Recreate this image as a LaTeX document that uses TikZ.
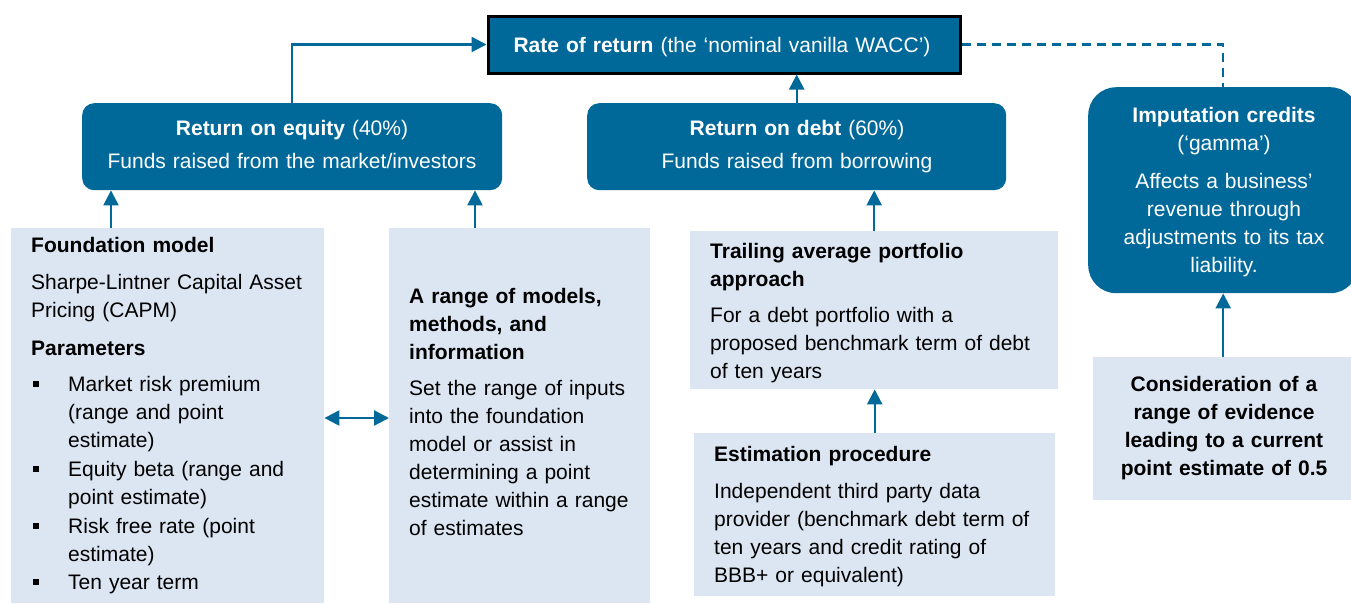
\documentclass[tikz,border=0pt]{standalone}
\usepackage{fontspec}
\setmainfont{Liberation Sans}
\usetikzlibrary{arrows.meta}
\definecolor{aerteal}{HTML}{00699A}
\definecolor{aerlight}{HTML}{DCE6F2}
\newcommand{\aerbul}{\makebox[37pt][l]{\hspace*{2pt}\rule[4pt]{6pt}{6pt}}}
\newcommand{\aerind}{\hspace*{37pt}}
\begin{document}
\begin{tikzpicture}[x=1pt,y=-1pt,
  font=\fontsize{21}{28}\selectfont,
  darkbox/.style={fill=aerteal, draw=none, rounded corners=12pt, anchor=north west, inner sep=0pt},
  lightbox/.style={fill=aerlight, draw=none, anchor=north west, inner sep=0pt},
  lt/.style={anchor=base west, text width=#1, align=left, inner sep=0pt},
  ct/.style={anchor=base, text width=#1, align=center, inner sep=0pt},
  link/.style={draw=aerteal, line width=2.3pt, -{Triangle[width=15pt,length=15pt]}},
  dlink/.style={draw=aerteal, line width=2.3pt, {Triangle[width=15pt,length=15pt]}-{Triangle[width=15pt,length=15pt]}},
  dashlink/.style={draw=aerteal, line width=2.3pt, dash pattern=on 9pt off 6pt},
]
\useasboundingbox (0,0) rectangle (1351,603);

% boxes
\node[fill=aerteal, draw=black, line width=3pt, anchor=north west, inner sep=0pt,
      minimum width=472pt, minimum height=57pt] (rate) at (486.5,14.5) {};
\node[darkbox, minimum width=420pt, minimum height=87pt] (roe) at (82,103) {};
\node[darkbox, minimum width=419pt, minimum height=87pt] (rod) at (587,103) {};
\node[darkbox, rounded corners=28pt, minimum width=270pt, minimum height=206pt] (imp) at (1088,87) {};
\node[lightbox, minimum width=313pt, minimum height=375pt] (fm) at (11,228) {};
\node[lightbox, minimum width=261pt, minimum height=375pt] (rg) at (389,228) {};
\node[lightbox, minimum width=368pt, minimum height=158pt] (tr) at (690,231) {};
\node[lightbox, minimum width=361pt, minimum height=163pt] (es) at (694,433) {};
\node[lightbox, minimum width=262pt, minimum height=143pt] (co) at (1093,357) {};

% texts
\node[ct=460pt, text=white] (ratet) at (722,52) {\textbf{Rate of return} (the ‘nominal vanilla WACC’)};
\node[ct=400pt, text=white] (roet) at (292,135) {\textbf{Return on equity} (40\%)\\[5pt] Funds raised from the market/investors};
\node[ct=400pt, text=white] (rodt) at (797,135) {\textbf{Return on debt} (60\%)\\[5pt] Funds raised from borrowing};
\node[ct=250pt, text=white] (impt) at (1224,122) {\textbf{Imputation credits}\\ (‘gamma’)\\[10pt] Affects a business’\\ revenue through\\ adjustments to its tax\\ liability.};
\node[lt=300pt] (fmt) at (31,252) {\textbf{Foundation model}\\[9pt]
  Sharpe-Lintner Capital Asset\\ Pricing (CAPM)\\[10pt]
  \textbf{Parameters}\\[8pt]
  \aerbul Market risk premium\\ \aerind (range and point\\ \aerind estimate)\\[1pt]
  \aerbul Equity beta (range and\\ \aerind point estimate)\\[1pt]
  \aerbul Risk free rate (point\\ \aerind estimate)\\
  \aerbul Ten year term};
\node[lt=240pt] (rgt) at (409,303) {\textbf{A range of models,}\\ \textbf{methods, and}\\ \textbf{information}\\[8pt]
  Set the range of inputs\\ into the foundation\\ model or assist in\\ determining a point\\ estimate within a range\\ of estimates};
\node[lt=345pt] (trt) at (710,258) {\textbf{Trailing average portfolio}\\ \textbf{approach}\\[8pt]
  For a debt portfolio with a\\ proposed benchmark term of debt\\ of ten years};
\node[lt=340pt] (est) at (714,461) {\textbf{Estimation procedure}\\[9pt]
  Independent third party data\\ provider (benchmark debt term of\\ ten years and credit rating of\\ BBB+ or equivalent)};
\node[ct=250pt, font=\fontsize{21}{28}\selectfont\bfseries] (cot) at (1224,391) {Consideration of a\\ range of evidence\\ leading to a current\\ point estimate of 0.5};

% connectors
\coordinate (dbl) at (356,418);
\draw[link] (roe.north) |- (rate.west);
\draw[link] (rod.north) -- (rod.north |- rate.south);
\draw[dashlink] (rate.east) -| (imp.north);
\draw[link] ([xshift=100pt]fm.north west) -- ([xshift=100pt]fm.north west |- roe.south);
\draw[link] ([xshift=86pt]rg.north west) -- ([xshift=86pt]rg.north west |- roe.south);
\draw[link] (tr.north) -- (tr.north |- rod.south);
\draw[link] (es.north) -- (es.north |- tr.south);
\draw[link] (imp.south |- co.north) -- (imp.south);
\draw[dlink] (fm.east |- dbl) -- (rg.west |- dbl);
\end{tikzpicture}
\end{document}
